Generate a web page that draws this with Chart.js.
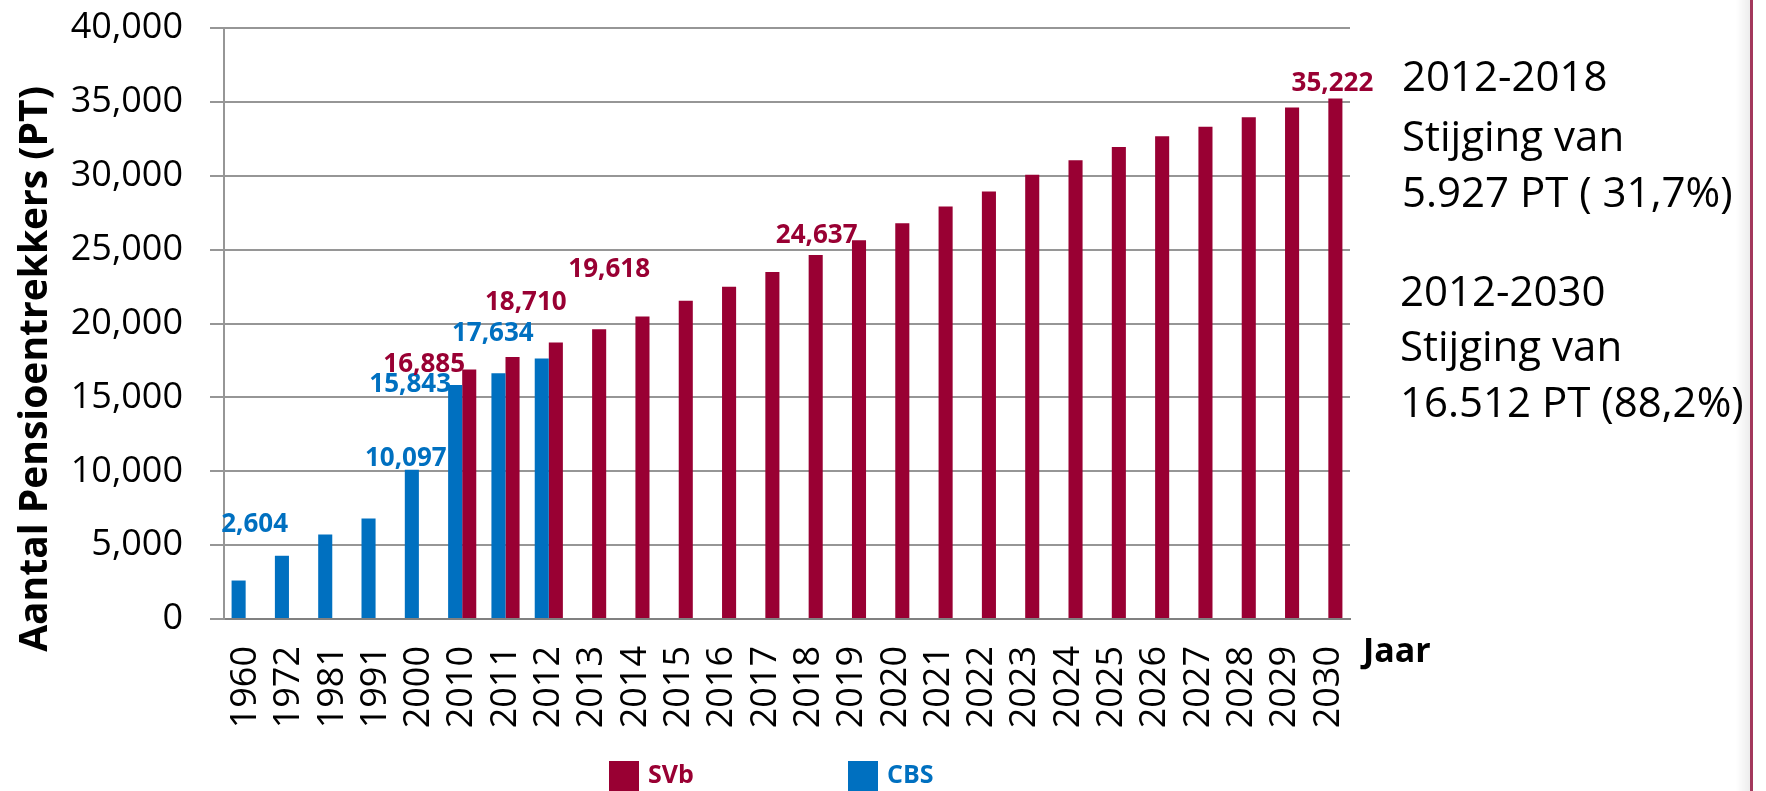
<!DOCTYPE html>
<html>
<head>
<meta charset="utf-8">
<script src="https://cdn.jsdelivr.net/npm/chart.js@4.4.0/dist/chart.umd.min.js"></script>
<style>
  html, body { margin: 0; padding: 0; background: #fff; }
  #wrap { position: relative; width: 1766px; height: 791px; overflow: hidden; }
  #schaduw { position: absolute; left: 1736px; top: 0; width: 15px; height: 791px;
    background: linear-gradient(to right, rgba(0,0,0,0), rgba(0,0,0,0.08)); }
  #rand { position: absolute; left: 1750px; top: 0; width: 3px; height: 791px; background: #a3385c; }
</style>
</head>
<body>
<div id="wrap">
  <canvas id="grafiek" width="1766" height="791"></canvas>
  <div id="schaduw"></div>
  <div id="rand"></div>
</div>
<script>
const jaren = ['1960', '1972', '1981', '1991', '2000', '2010', '2011', '2012', '2013', '2014', '2015', '2016', '2017',
  '2018', '2019', '2020', '2021', '2022', '2023', '2024', '2025', '2026', '2027', '2028', '2029', '2030'];

const cbsData = [2604, 4280, 5720, 6800, 10097, 15843, 16640, 17634,
  null, null, null, null, null, null, null, null, null, null, null, null, null, null, null, null, null, null];

const svbData = [null, null, null, null, null, 16885, 17730, 18710, 19618, 20480, 21540, 22480, 23480,
  24637, 25640, 26790, 27920, 28930, 30060, 31050, 31950, 32680, 33310, 33960, 34620, 35222];

const yMax = 40000;
const yStap = 5000;

// jaren waarvan de waarde in de grafiek staat
const cbsMetLabel = ['1960', '2000', '2010', '2012'];
const svbMetLabel = ['2010', '2012', '2013', '2018', '2030'];

const yTitel = 'Aantal Pensioentrekkers (PT)';
const toelichting = [
  ['2012-2018', 'Stijging van', '5.927 PT ( 31,7%)'],
  ['2012-2030', 'Stijging van', '16.512 PT (88,2%)']
];

const rood = '#990033';
const blauw = '#0070c0';

// verschuiving van de labels t.o.v. de top van de staaf
const labelVerschuiving = {
  cbs: { '1960': [16, -58], '2000': [-6, -13], '2010': [-45, -2], '2012': [-49, -26] },
  svb: { '2010': [-45, -7], '2012': [-30, -42], '2013': [10, -61], '2018': [1, -21], '2030': [-3, -17] }
};

const waardeLabels = {
  id: 'waardeLabels',
  afterDatasetsDraw(chart) {
    const ctx = chart.ctx;
    ctx.save();
    ctx.font = 'bold 26px "Open Sans"';
    ctx.textAlign = 'center';
    ctx.textBaseline = 'alphabetic';
    chart.data.datasets.forEach((ds, di) => {
      const meta = chart.getDatasetMeta(di);
      ds.metLabel.forEach(jaar => {
        const i = jaren.indexOf(jaar);
        const staaf = meta.data[i];
        const off = labelVerschuiving[ds.sleutel][jaar];
        ctx.fillStyle = ds.backgroundColor;
        ctx.fillText(ds.data[i].toLocaleString('en-US'), staaf.x + off[0], staaf.y + off[1] + 9);
      });
    });
    ctx.restore();
  }
};

const extraTekst = {
  id: 'extraTekst',
  afterDraw(chart) {
    const ctx = chart.ctx;
    ctx.save();
    ctx.fillStyle = '#000';

    // as-titel links
    ctx.save();
    ctx.translate(36, 369);
    ctx.rotate(-Math.PI / 2);
    ctx.textAlign = 'center';
    ctx.textBaseline = 'middle';
    ctx.font = 'bold 39px "Open Sans"';
    ctx.fillText(yTitel, 0, 0);
    ctx.restore();

    ctx.textAlign = 'left';
    ctx.textBaseline = 'alphabetic';
    ctx.font = '42px "Open Sans"';
    const basis = [[91, 151, 207], [306, 361, 417]];
    const links = [1402, 1400];
    toelichting.forEach((blok, b) => {
      blok.forEach((regel, r) => ctx.fillText(regel, links[b], basis[b][r]));
    });
    ctx.font = 'bold 34px "Open Sans"';
    ctx.fillText('Jaar', 1363, 662);

    // legenda: SVb eerst, dan CBS
    const volgorde = [1, 0];
    ctx.font = 'bold 25px "Open Sans"';
    volgorde.forEach((di, k) => {
      const ds = chart.data.datasets[di];
      const x = 609 + k * 239;
      ctx.fillStyle = ds.backgroundColor;
      ctx.fillRect(x, 761, 30, 30);
      ctx.fillText(ds.label, x + 39, 783);
    });
    ctx.restore();
  }
};

new Chart(document.getElementById('grafiek'), {
  type: 'bar',
  data: {
    labels: jaren,
    datasets: [
      { label: 'CBS', sleutel: 'cbs', data: cbsData, backgroundColor: blauw, metLabel: cbsMetLabel },
      { label: 'SVb', sleutel: 'svb', data: svbData, backgroundColor: rood, metLabel: svbMetLabel }
    ]
  },
  options: {
    responsive: false,
    animation: false,
    devicePixelRatio: 1,
    categoryPercentage: 0.65,
    barPercentage: 1.0,
    layout: { padding: { top: 28, right: 416, left: 0, bottom: 0 } },
    plugins: {
      legend: { display: false },
      tooltip: { enabled: false }
    },
    scales: {
      x: {
        grid: { display: false, drawTicks: false },
        border: { display: true, color: '#808080', width: 2 },
        ticks: {
          autoSkip: false,
          minRotation: 90,
          maxRotation: 90,
          padding: 27,
          color: '#000',
          font: { family: 'Open Sans', size: 36 }
        },
        afterFit: (scale) => { scale.height = 172; }
      },
      y: {
        min: 0,
        max: yMax,
        ticks: {
          stepSize: yStap,
          padding: 27,
          color: '#000',
          font: { family: 'Open Sans', size: 36 },
          callback: (v) => v.toLocaleString('en-US')
        },
        grid: { color: '#969696', lineWidth: 2, tickLength: 14 },
        border: { color: '#969696', width: 2 },
        afterFit: (scale) => {
          scale.width = 224;
          scale.paddingTop = 0;
          scale.paddingBottom = 0;
        }
      }
    }
  },
  plugins: [waardeLabels, extraTekst]
});
</script>
</body>
</html>
